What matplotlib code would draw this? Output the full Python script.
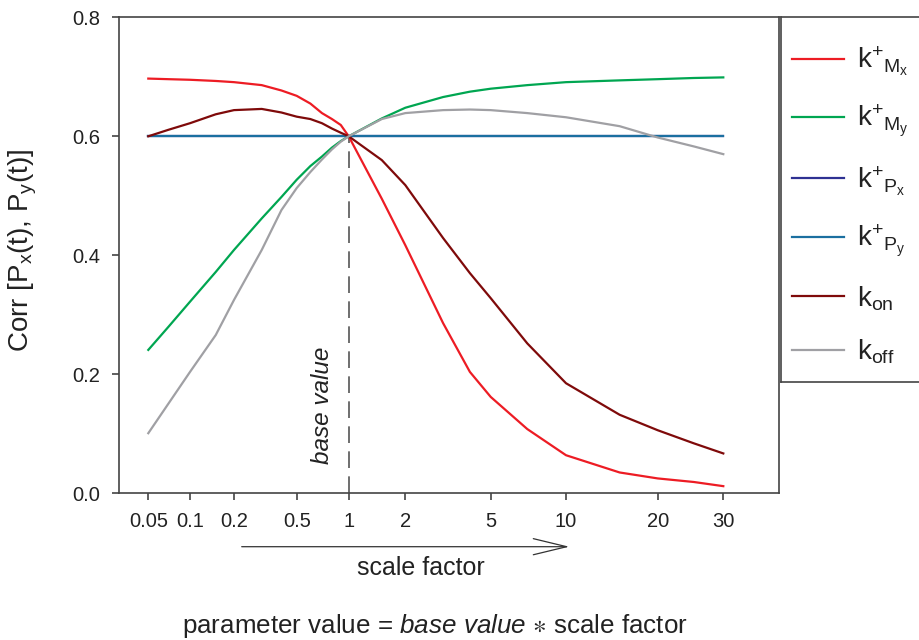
import matplotlib
matplotlib.use('Agg')
import matplotlib.pyplot as plt
import numpy as np
from matplotlib.ticker import FixedLocator, NullLocator

plt.rcParams['font.family'] = ['Liberation Sans', 'DejaVu Sans']
plt.rcParams['mathtext.fontset'] = 'custom'
plt.rcParams['mathtext.rm'] = 'Liberation Sans'
plt.rcParams['mathtext.it'] = 'Liberation Sans:italic'
plt.rcParams['mathtext.bf'] = 'Liberation Sans:bold'
plt.rcParams['mathtext.fallback'] = 'stixsans'

# scale factors applied to each rate constant
scale = [0.05, 0.07, 0.1, 0.15, 0.2, 0.3, 0.4, 0.5, 0.6, 0.7, 0.8, 0.9, 1,
         1.5, 2, 3, 4, 5, 7, 10, 15, 20, 25, 30]

# correlation of Px(t) and Py(t) for each scanned parameter
corr_kMx = [0.697, 0.696, 0.695, 0.693, 0.691, 0.686, 0.677, 0.668, 0.655, 0.639, 0.629, 0.619, 0.600,
            0.495, 0.417, 0.286, 0.204, 0.162, 0.108, 0.064, 0.035, 0.025, 0.019, 0.012]
corr_kMy = [0.241, 0.280, 0.322, 0.372, 0.409, 0.462, 0.498, 0.527, 0.550, 0.566, 0.581, 0.592, 0.600,
            0.630, 0.648, 0.666, 0.675, 0.680, 0.686, 0.691, 0.694, 0.696, 0.698, 0.699]
corr_kPx = [0.600, 0.600, 0.600, 0.600, 0.600, 0.600, 0.600, 0.600, 0.600, 0.600, 0.600, 0.600, 0.600,
            0.600, 0.600, 0.600, 0.600, 0.600, 0.600, 0.600, 0.600, 0.600, 0.600, 0.600]
corr_kPy = [0.600, 0.600, 0.600, 0.600, 0.600, 0.600, 0.600, 0.600, 0.600, 0.600, 0.600, 0.600, 0.600,
            0.600, 0.600, 0.600, 0.600, 0.600, 0.600, 0.600, 0.600, 0.600, 0.600, 0.600]
corr_kon = [0.600, 0.611, 0.622, 0.637, 0.644, 0.646, 0.640, 0.633, 0.629, 0.622, 0.613, 0.606, 0.600,
            0.560, 0.518, 0.429, 0.370, 0.328, 0.252, 0.185, 0.132, 0.106, 0.084, 0.067]
corr_koff = [0.101, 0.151, 0.204, 0.266, 0.325, 0.409, 0.476, 0.513, 0.540, 0.561, 0.578, 0.591, 0.600,
             0.629, 0.639, 0.644, 0.645, 0.644, 0.639, 0.632, 0.617, 0.598, 0.583, 0.570]

base_scale = 1
base_corr = 0.6

tick_vals = [0.05, 0.1, 0.2, 0.5, 1, 2, 5, 10, 20, 30]
tick_labels = ['0.05', '0.1', '0.2', '0.5', '1', '2', '5', '10', '20', '30']

# the x axis is stretched unevenly between ticks, so build the scale from the tick spacing
tick_pos = np.array([148.3, 190.0, 234.0, 296.7, 348.7, 405.3, 490.7, 566.0, 657.7, 723.3])
lg = np.log10(tick_vals)
slope_lo = (tick_pos[1] - tick_pos[0]) / (lg[1] - lg[0])
slope_hi = (tick_pos[-1] - tick_pos[-2]) / (lg[-1] - lg[-2])
lg_ext = np.concatenate([[lg[0] - 3], lg, [lg[-1] + 3]])
pos_ext = np.concatenate([[tick_pos[0] - 3 * slope_lo], tick_pos, [tick_pos[-1] + 3 * slope_hi]])


def fwd(x):
    with np.errstate(divide='ignore', invalid='ignore'):
        return np.interp(np.log10(x), lg_ext, pos_ext)


def inv(p):
    return 10 ** np.interp(p, pos_ext, lg_ext)


W, H = 919, 640
fig = plt.figure(figsize=(W / 100, H / 100), dpi=100)
ax_l, ax_r, ax_t, ax_b = 119, 778.5, 17.3, 493.3
ax = fig.add_axes([ax_l / W, 1 - ax_b / H, (ax_r - ax_l) / W, (ax_b - ax_t) / H])

axis_col = '#444444'
text_col = '#222222'

lines = []
lines += ax.plot(scale, corr_kMx, color='#ed1c24', lw=1.6)
lines += ax.plot(scale, corr_kMy, color='#00a651', lw=1.6)
lines += ax.plot(scale, corr_kPx, color='#2e3192', lw=1.6)
lines += ax.plot(scale, corr_kPy, color='#1b6fa0', lw=1.6)
lines += ax.plot(scale, corr_kon, color='#7f0a0a', lw=1.6)
lines += ax.plot(scale, corr_koff, color='#a0a0a4', lw=1.6)

ax.vlines(base_scale, 0, base_corr, colors='#555555', lw=1.2, linestyles=(0, (10, 5)), zorder=1)
ax.text(0.3093, 0.1855, 'base value', transform=ax.transAxes, rotation=90, ha='center', va='center',
        style='italic', fontsize=17.5, color=text_col)

ax.set_xscale('function', functions=(fwd, inv))
ax.set_xlim(inv(ax_l), inv(ax_r))
ax.xaxis.set_major_locator(FixedLocator(tick_vals))
ax.set_xticklabels(tick_labels)
ax.xaxis.set_minor_locator(NullLocator())

ax.set_ylim(0, 0.8)
ax.set_yticks([0, 0.2, 0.4, 0.6, 0.8])
ax.set_yticklabels(['0.0', '0.2', '0.4', '0.6', '0.8'])

for s in ax.spines.values():
    s.set_color(axis_col)
    s.set_linewidth(1.2)
ax.tick_params(direction='out', length=5, width=1.2, color=axis_col, pad=8.5,
               labelsize=14.5, labelcolor=text_col)

ax.set_ylabel(r'Corr [P$_{\mathrm{x}}$(t), P$_{\mathrm{y}}$(t)]', fontsize=20, color=text_col)
ax.yaxis.set_label_coords(-0.121, 0.51)

# legend panel sits against the right edge of the plot
lg_l, lg_t, lg_b = 781, 17.3, 381.7
lax = fig.add_axes([lg_l / W, 1 - lg_b / H, 0.3, (lg_b - lg_t) / H])
lax.set_xticks([])
lax.set_yticks([])
for s in lax.spines.values():
    s.set_color(axis_col)
    s.set_linewidth(1.2)

labels = [r'$\mathrm{k}^{+}{}_{\mathrm{M}_{\mathrm{x}}}$',
          r'$\mathrm{k}^{+}{}_{\mathrm{M}_{\mathrm{y}}}$',
          r'$\mathrm{k}^{+}{}_{\mathrm{P}_{\mathrm{x}}}$',
          r'$\mathrm{k}^{+}{}_{\mathrm{P}_{\mathrm{y}}}$',
          r'$\mathrm{k}_{\mathrm{on}}$',
          r'$\mathrm{k}_{\mathrm{off}}$']
leg = lax.legend(lines, labels, loc='upper left', bbox_to_anchor=(0.04, 0.925), frameon=False,
                 fontsize=20, handlelength=1.87, handletextpad=0.47, labelspacing=0.9,
                 borderaxespad=0, borderpad=0)
for t in leg.get_texts():
    t.set_color(text_col)

# arrow and captions under the x axis
fig.patches.append(matplotlib.patches.FancyArrowPatch(
    (241.7 / W, 1 - 546.7 / H), (569.3 / W, 1 - 546.7 / H), transform=fig.transFigure,
    arrowstyle='->,head_length=2.4,head_width=0.58', mutation_scale=10,
    lw=0.9, color='#333333', shrinkA=0, shrinkB=0))
fig.text(421 / W, 1 - 568 / H, 'scale factor', ha='center', va='center', fontsize=18, color=text_col)
fig.text(435 / W, 1 - 633 / H, r'parameter value = $\mathit{base\ value}$ $\ast$ scale factor',
         ha='center', va='baseline', fontsize=18.7, color=text_col)

fig.savefig('out.png', dpi=100)
